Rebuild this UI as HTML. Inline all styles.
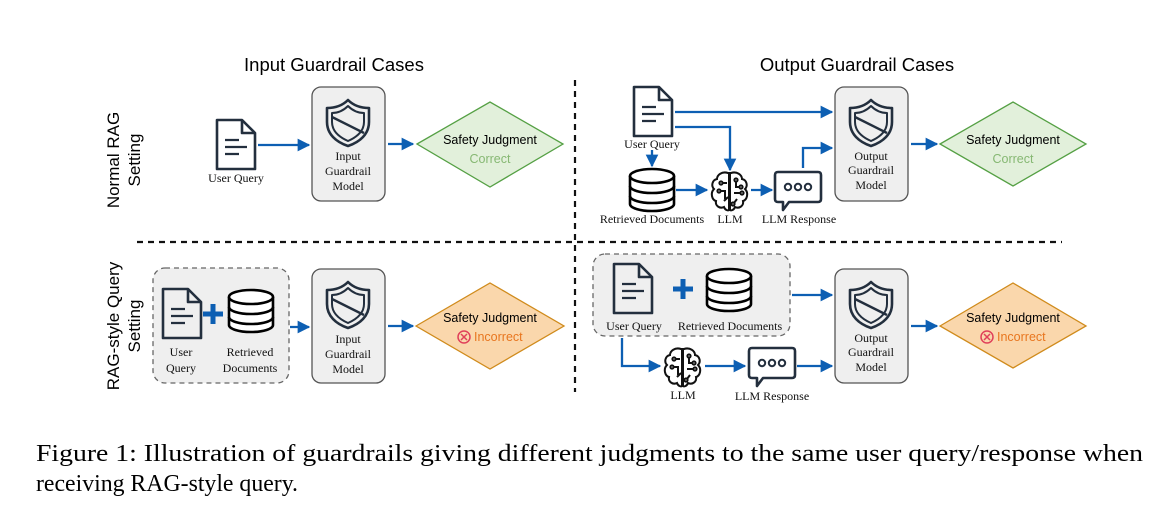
<!DOCTYPE html>
<html><head><meta charset="utf-8"><style>
html,body{margin:0;padding:0;background:#fff;}
svg{display:block;}
.s{font-family:"Liberation Sans",sans-serif;}
.r{font-family:"Liberation Serif",serif;font-size:12px;fill:#111;}
</style></head><body>
<svg width="1174" height="524" viewBox="0 0 1174 524" xmlns="http://www.w3.org/2000/svg">
<defs>
<marker id="a" viewBox="0 0 10 10" refX="9" refY="5" markerWidth="5.5" markerHeight="5.5" orient="auto"><path d="M0,0 L10,5 L0,10 z" fill="#0d5fb3"/></marker>
<g id="doc" fill="none" stroke="#232f3e" stroke-width="2.6" stroke-linejoin="round">
<path d="M0,0 H25 L38,13 V49 H0 Z"/><path d="M25,0 V13 H38"/>
<path d="M8,20 H22 M8,27 H30 M8,34 H22" stroke-width="2.2"/>
</g>
<g id="db" fill="#fff" stroke="#000" stroke-width="2.6">
<path d="M0,8 V36 A22,7 0 0 0 44,36 V8"/>
<ellipse cx="22" cy="8" rx="22" ry="7"/>
<path d="M0,18 A22,7 0 0 0 44,18 M0,28 A22,7 0 0 0 44,28" fill="none"/>
</g>
<g id="sh" fill="none" stroke="#232f3e" stroke-width="2.6" stroke-linejoin="round">
<path d="M21,0 C27,6 35,8 42,8 V22 C42,34 33,42 21,46 C9,42 0,34 0,22 V8 C7,8 15,6 21,0 Z"/>
<path d="M21,6 C26,11 32,13 37,13 V22 C37,31 30,37 21,41 C12,37 5,31 5,22 V13 C10,13 16,11 21,6 Z" stroke-width="2"/>
<path d="M5,17 L37,33" stroke-width="2.4"/>
</g>
<g id="br" fill="none" stroke="#111" stroke-width="2">
<path d="M18,2 C12,0 7,4 7,8 C2,9 1,15 4,18 C0,22 2,29 6,30 C5,35 10,38 14,36 C15,39 18,40 19,39 V2 Z"/>
<path d="M21,2 C27,0 32,4 32,8 C37,9 38,15 35,18 C39,22 37,29 33,30 C34,35 29,38 25,36 C24,39 21,40 20,39 V2 Z"/>
<path d="M12,12 h5 M10,20 h5 v8 M14,30 l4,-4 M26,10 v6 h4 M24,22 h7 M27,28 l-3,4"/>
<circle cx="11" cy="12" r="1.6"/><circle cx="9" cy="20" r="1.6"/><circle cx="31" cy="16" r="1.6"/><circle cx="32" cy="22" r="1.6"/><circle cx="26" cy="9" r="1.6"/><circle cx="23" cy="33" r="1.6"/>
</g>
<g id="ch" fill="#fff" stroke="#232f3e" stroke-width="2.6" stroke-linejoin="round">
<path d="M3,0 H43 Q46,0 46,3 V27 Q46,30 43,30 H14 L8,38 V30 H3 Q0,30 0,27 V3 Q0,0 3,0 Z"/>
<circle cx="13" cy="15" r="3.2" stroke-width="2"/><circle cx="23" cy="15" r="3.2" stroke-width="2"/><circle cx="33" cy="15" r="3.2" stroke-width="2"/>
</g>
<g id="box"><rect x="0" y="0" width="73" height="114" rx="9" fill="#efefef" stroke="#555" stroke-width="1.3"/></g>
</defs>

<text class="s" x="334" y="71" font-size="18.5" text-anchor="middle">Input Guardrail Cases</text>
<text class="s" x="857" y="71" font-size="18.5" text-anchor="middle">Output Guardrail Cases</text>

<text class="s" font-size="17" text-anchor="middle" transform="translate(119,160) rotate(-90)">Normal RAG</text>
<text class="s" font-size="17" text-anchor="middle" transform="translate(140,160) rotate(-90)">Setting</text>
<text class="s" font-size="17" text-anchor="middle" transform="translate(119,326) rotate(-90)">RAG-style Query</text>
<text class="s" font-size="17" text-anchor="middle" transform="translate(140,326) rotate(-90)">Setting</text>

<line x1="575" y1="80" x2="575" y2="392" stroke="#111" stroke-width="2.2" stroke-dasharray="6,5"/>
<line x1="137" y1="242" x2="1062" y2="242" stroke="#111" stroke-width="2.2" stroke-dasharray="6,5"/>

<g stroke="#0d5fb3" stroke-width="2.3" fill="none">
<line x1="258" y1="145" x2="309" y2="145" marker-end="url(#a)"/>
<line x1="388" y1="144" x2="413" y2="144" marker-end="url(#a)"/>
<line x1="675" y1="112" x2="832" y2="112" marker-end="url(#a)"/>
<polyline points="675,127 730,127 730,170" marker-end="url(#a)"/>
<line x1="652" y1="150" x2="652" y2="166" marker-end="url(#a)"/>
<line x1="676" y1="190" x2="707" y2="190" marker-end="url(#a)"/>
<line x1="751" y1="190" x2="772" y2="190" marker-end="url(#a)"/>
<polyline points="803,168 803,148 832,148" marker-end="url(#a)"/>
<line x1="911" y1="144" x2="937" y2="144" marker-end="url(#a)"/>
<line x1="290" y1="327" x2="309" y2="327" marker-end="url(#a)"/>
<line x1="388" y1="326" x2="413" y2="326" marker-end="url(#a)"/>
<line x1="792" y1="295" x2="832" y2="295" marker-end="url(#a)"/>
<polyline points="622,338 622,366 660,366" marker-end="url(#a)"/>
<line x1="705" y1="366" x2="745" y2="366" marker-end="url(#a)"/>
<line x1="797" y1="366" x2="832" y2="366" marker-end="url(#a)"/>
<line x1="911" y1="326" x2="937" y2="326" marker-end="url(#a)"/>
</g>

<!-- top left -->
<use href="#doc" x="217" y="120"/>
<text class="r" x="236" y="182" text-anchor="middle">User Query</text>
<use href="#box" x="312" y="87"/>
<use href="#sh" x="327" y="100"/>
<text class="r" x="348" y="160" text-anchor="middle">Input</text>
<text class="r" x="348" y="175" text-anchor="middle">Guardrail</text>
<text class="r" x="348" y="190" text-anchor="middle">Model</text>
<path d="M417,144 L490,102 L563,144 L490,187 Z" fill="#e2f0db" stroke="#55a044" stroke-width="1.3"/>
<text class="s" x="490" y="144" font-size="12.5" text-anchor="middle">Safety Judgment</text>
<text class="s" x="490" y="163" font-size="12.5" text-anchor="middle" fill="#86b873">Correct</text>

<!-- top right -->
<use href="#doc" x="634" y="87"/>
<text class="r" x="652" y="148" text-anchor="middle">User Query</text>
<use href="#db" x="630" y="168"/>
<text class="r" x="652" y="223" text-anchor="middle">Retrieved Documents</text>
<use href="#br" x="710" y="171"/>
<text class="r" x="730" y="223" text-anchor="middle">LLM</text>
<use href="#ch" x="775" y="172"/>
<text class="r" x="799" y="223" text-anchor="middle">LLM Response</text>
<use href="#box" x="835" y="87"/>
<use href="#sh" x="850" y="100"/>
<text class="r" x="871" y="160" text-anchor="middle">Output</text>
<text class="r" x="871" y="174" text-anchor="middle">Guardrail</text>
<text class="r" x="871" y="189" text-anchor="middle">Model</text>
<path d="M940,144 L1013,102 L1086,144 L1013,186 Z" fill="#e2f0db" stroke="#55a044" stroke-width="1.3"/>
<text class="s" x="1013" y="144" font-size="12.5" text-anchor="middle">Safety Judgment</text>
<text class="s" x="1013" y="163" font-size="12.5" text-anchor="middle" fill="#86b873">Correct</text>

<!-- bottom left -->
<rect x="153" y="268" width="136" height="115" rx="12" fill="#efefef" stroke="#666" stroke-width="1.3" stroke-dasharray="5,4"/>
<use href="#doc" x="163" y="289"/>
<path d="M213,304 V324 M203,314 H223" stroke="#0d5fb3" stroke-width="5"/>
<use href="#db" x="229" y="289"/>
<text class="r" x="181" y="356" text-anchor="middle">User</text>
<text class="r" x="181" y="372" text-anchor="middle">Query</text>
<text class="r" x="250" y="356" text-anchor="middle">Retrieved</text>
<text class="r" x="250" y="372" text-anchor="middle">Documents</text>
<use href="#box" x="312" y="269"/>
<use href="#sh" x="327" y="282"/>
<text class="r" x="348" y="343" text-anchor="middle">Input</text>
<text class="r" x="348" y="358" text-anchor="middle">Guardrail</text>
<text class="r" x="348" y="373" text-anchor="middle">Model</text>
<path d="M416,326 L490,283 L564,326 L490,369 Z" fill="#fad7ac" stroke="#d08b1c" stroke-width="1.3"/>
<text class="s" x="490" y="322" font-size="12.5" text-anchor="middle">Safety Judgment</text>
<circle cx="464" cy="337" r="6" fill="none" stroke="#e0405a" stroke-width="1.5"/>
<path d="M461,334 l6,6 m0,-6 l-6,6" stroke="#e0405a" stroke-width="1.5"/>
<text class="s" x="474" y="341" font-size="12.5" fill="#e8761f">Incorrect</text>

<!-- bottom right -->
<rect x="593" y="254" width="197" height="82" rx="12" fill="#efefef" stroke="#666" stroke-width="1.3" stroke-dasharray="5,4"/>
<use href="#doc" x="614" y="264"/>
<path d="M683,279 V299 M673,289 H693" stroke="#0d5fb3" stroke-width="5"/>
<use href="#db" x="707" y="268"/>
<text class="r" x="634" y="330" text-anchor="middle">User Query</text>
<text class="r" x="730" y="330" text-anchor="middle">Retrieved Documents</text>
<use href="#br" x="663" y="347"/>
<text class="r" x="683" y="399" text-anchor="middle">LLM</text>
<use href="#ch" x="749" y="348"/>
<text class="r" x="772" y="400" text-anchor="middle">LLM Response</text>
<use href="#box" x="835" y="269"/>
<use href="#sh" x="850" y="282"/>
<text class="r" x="871" y="342" text-anchor="middle">Output</text>
<text class="r" x="871" y="356" text-anchor="middle">Guardrail</text>
<text class="r" x="871" y="371" text-anchor="middle">Model</text>
<path d="M940,326 L1013,283 L1086,326 L1013,368 Z" fill="#fad7ac" stroke="#d08b1c" stroke-width="1.3"/>
<text class="s" x="1013" y="322" font-size="12.5" text-anchor="middle">Safety Judgment</text>
<circle cx="987" cy="337" r="6" fill="none" stroke="#e0405a" stroke-width="1.5"/>
<path d="M984,334 l6,6 m0,-6 l-6,6" stroke="#e0405a" stroke-width="1.5"/>
<text class="s" x="997" y="341" font-size="12.5" fill="#e8761f">Incorrect</text>

<!-- caption -->
<text x="36" y="461" font-family="Liberation Serif, serif" font-size="24" textLength="1107" lengthAdjust="spacingAndGlyphs">Figure 1: Illustration of guardrails giving different judgments to the same user query/response when</text>
<text x="36" y="491" font-family="Liberation Serif, serif" font-size="24" textLength="262" lengthAdjust="spacingAndGlyphs">receiving RAG-style query.</text>
</svg>
</body></html>
